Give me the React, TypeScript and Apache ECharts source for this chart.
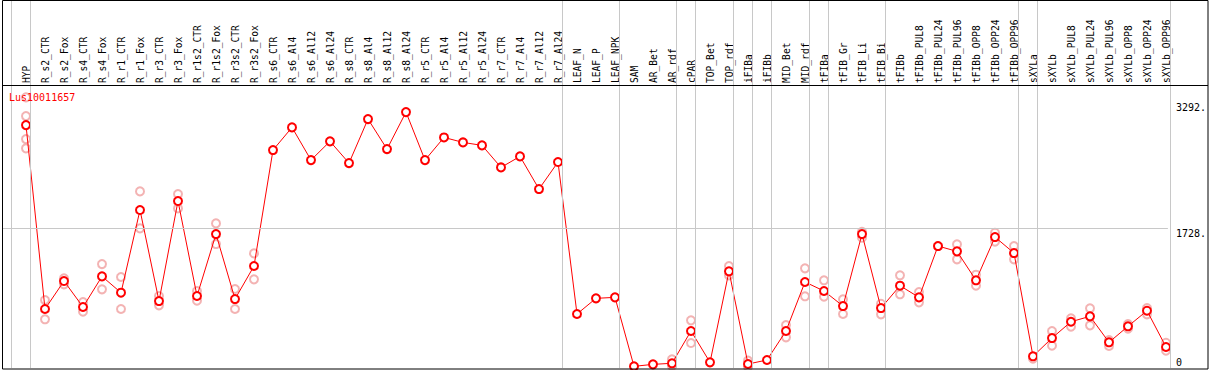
import React, { useEffect, useRef } from "react";
import * as echarts from "echarts";

const categories = [
  "HYP", "R_s2_CTR", "R_s2_Fox", "R_s4_CTR", "R_s4_Fox", "R_r1_CTR", "R_r1_Fox", "R_r3_CTR", "R_r3_Fox",
  "R_r1s2_CTR", "R_r1s2_Fox", "R_r3s2_CTR", "R_r3s2_Fox", "R_s6_CTR", "R_s6_Al4", "R_s6_Al12", "R_s6_Al24",
  "R_s8_CTR", "R_s8_Al4", "R_s8_Al12", "R_s8_Al24", "R_r5_CTR", "R_r5_Al4", "R_r5_Al12", "R_r5_Al24",
  "R_r7_CTR", "R_r7_Al4", "R_r7_Al12", "R_r7_Al24", "LEAF_N", "LEAF_P", "LEAF_NPK", "SAM", "AR_Bet", "AR_rdf",
  "cPAR", "TOP_Bet", "TOP_rdf", "iFIBa", "iFIBb", "MID_Bet", "MID_rdf", "tFIBa", "tFIB_Gr", "tFIB_Li", "tFIB_Bi",
  "tFIBb", "tFIBb_PUL8", "tFIBb_PUL24", "tFIBb_PUL96", "tFIBb_OPP8", "tFIBb_OPP24", "tFIBb_OPP96",
  "sXYLa", "sXYLb", "sXYLb_PUL8", "sXYLb_PUL24", "sXYLb_PUL96", "sXYLb_OPP8", "sXYLb_OPP24", "sXYLb_OPP96",
];

const means = [
  3008, 721, 1069, 746, 1127, 924, 1952, 820, 2064,
  883, 1653, 845, 1256, 2698, 2980, 2573, 2806,
  2536, 3083, 2710, 3170, 2573, 2855, 2793, 2756,
  2482, 2619, 2213, 2549, 659, 854, 866, 8, 33, 46,
  448, 58, 1190, 37, 87, 448, 1057, 945, 758, 1653, 733,
  1011, 866, 1504, 1438, 1078, 1616, 1417,
  133, 360, 563, 630, 307, 506, 700, 249,
];

const replicates: number[][] = [
  [3353, 3120, 2834, 2719], [833, 593], [1102, 1028], [808, 688], [1280, 966], [1119, 721], [2184, 1724], [883, 767], [2151, 1972],
  [945, 825], [1786, 1529], [970, 721], [1413, 1090], [], [], [], [],
  [], [], [], [], [], [], [], [],
  [], [], [], [], [], [], [], [], [], [96, 12],
  [580, 298], [], [1256, 1140], [79, 4], [], [522, 369], [1227, 879], [1078, 874], [841, 659], [1682, 1607], [787, 655],
  [1140, 904], [932, 804], [1504], [1525, 1339], [1148, 1011], [1670, 1558], [1504, 1339],
  [104], [448, 265], [605, 501], [730, 518], [336, 261], [535, 476], [733, 655], [302, 203],
];

// indices where a new sample group starts (plus the end)
const groupStarts = [0, 1, 29, 32, 35, 36, 38, 39, 40, 42, 43, 46, 53, 54, 61];

const yMax = 3507;
const yLabelValues = [1728, 3292];
const refLineValue = 1728;
const title = "Lus10011657";

const FONT = "'DejaVu Sans Mono', monospace";

export default function App() {
  const ref = useRef<HTMLDivElement>(null);

  useEffect(() => {
    if (!ref.current) return;
    const chart = echarts.init(ref.current, undefined, { renderer: "svg" });

    const repData: number[][] = [];
    replicates.forEach((reps, i) => reps.forEach((v) => repData.push([i, v])));

    const option: any = {
      animation: false,
      backgroundColor: "#ffffff",
      title: {
        text: title,
        left: 9,
        top: 92,
        padding: 0,
        textStyle: { color: "#ff0000", fontSize: 10, fontWeight: "normal", fontFamily: FONT },
      },
      grid: [
        { left: 16.5, top: 85, width: 1159, height: 282 },
        { left: 11.3, top: 0, width: 1159, height: 368 },
        { left: 2.5, top: 85, width: 1167.8, height: 282 },
      ],
      xAxis: [
        {
          type: "category",
          gridIndex: 0,
          data: categories,
          position: "top",
          boundaryGap: true,
          axisLine: { show: false },
          axisTick: { show: false },
          splitLine: { show: false },
          axisLabel: {
            rotate: 90,
            interval: 0,
            margin: 2,
            color: "#000",
            fontSize: 9.6,
            fontFamily: FONT,
          },
        },
        { type: "value", gridIndex: 1, min: 0, max: categories.length, show: false },
        { type: "value", gridIndex: 2, min: 0, max: 1, show: false },
      ],
      yAxis: [
        { type: "value", gridIndex: 0, min: 0, max: yMax, show: false },
        { type: "value", gridIndex: 1, min: 0, max: 1, show: false },
        {
          type: "value",
          gridIndex: 2,
          min: 0,
          max: yMax,
          position: "right",
          axisLine: { show: false },
          axisTick: { show: false },
          splitLine: { show: false },
          axisLabel: {
            customValues: yLabelValues,
            margin: 8,
            verticalAlign: "top",
            color: "#000",
            fontSize: 10,
            fontFamily: FONT,
            formatter: (v: number) => v + ".",
          },
        },
        {
          type: "value",
          gridIndex: 2,
          min: 0,
          max: yMax,
          position: "right",
          axisLine: { show: false },
          axisTick: { show: false },
          splitLine: { show: false },
          axisLabel: {
            customValues: [0],
            margin: 8,
            verticalAlign: "bottom",
            color: "#000",
            fontSize: 10,
            fontFamily: FONT,
            formatter: (v: number) => String(v),
          },
        },
      ],
      series: [
        {
          type: "line",
          xAxisIndex: 1,
          yAxisIndex: 1,
          data: [],
          silent: true,
          markLine: {
            silent: true,
            symbol: "none",
            label: { show: false },
            lineStyle: { color: "#c8c8c8", width: 1, type: "solid" },
            data: groupStarts.map((g) => ({ xAxis: g })),
          },
        },
        {
          type: "line",
          xAxisIndex: 2,
          yAxisIndex: 2,
          data: [],
          silent: true,
          markLine: {
            silent: true,
            symbol: "none",
            label: { show: false },
            lineStyle: { color: "#c8c8c8", width: 1, type: "solid" },
            data: [{ yAxis: refLineValue }],
          },
        },
        {
          type: "scatter",
          xAxisIndex: 0,
          yAxisIndex: 0,
          data: repData,
          symbol: "emptyCircle",
          symbolSize: 8,
          z: 3,
          itemStyle: { color: "#f0a0a0", borderColor: "#f0a0a0", borderWidth: 1 },
        },
        {
          type: "line",
          xAxisIndex: 0,
          yAxisIndex: 0,
          data: means,
          symbol: "emptyCircle",
          symbolSize: 8,
          z: 4,
          itemStyle: { color: "#ff0000", borderColor: "#ff0000", borderWidth: 1.3 },
          lineStyle: { color: "#ff0000", width: 1 },
        },
      ],
      graphic: [
        {
          type: "rect",
          shape: { x: 2.5, y: 0.5, width: 1205.5, height: 368.5 },
          style: { fill: "none", stroke: "#000", lineWidth: 1 },
          silent: true,
          z: 10,
        },
        {
          type: "line",
          shape: { x1: 2.5, y1: 85.5, x2: 1208, y2: 85.5 },
          style: { stroke: "#000", lineWidth: 1 },
          silent: true,
          z: 10,
        },
      ],
    };

    chart.setOption(option);
    return () => chart.dispose();
  }, []);

  return (
    <div
      ref={ref}
      style={{ position: "absolute", left: 0, top: 0, width: 1209, height: 370 }}
    />
  );
}
